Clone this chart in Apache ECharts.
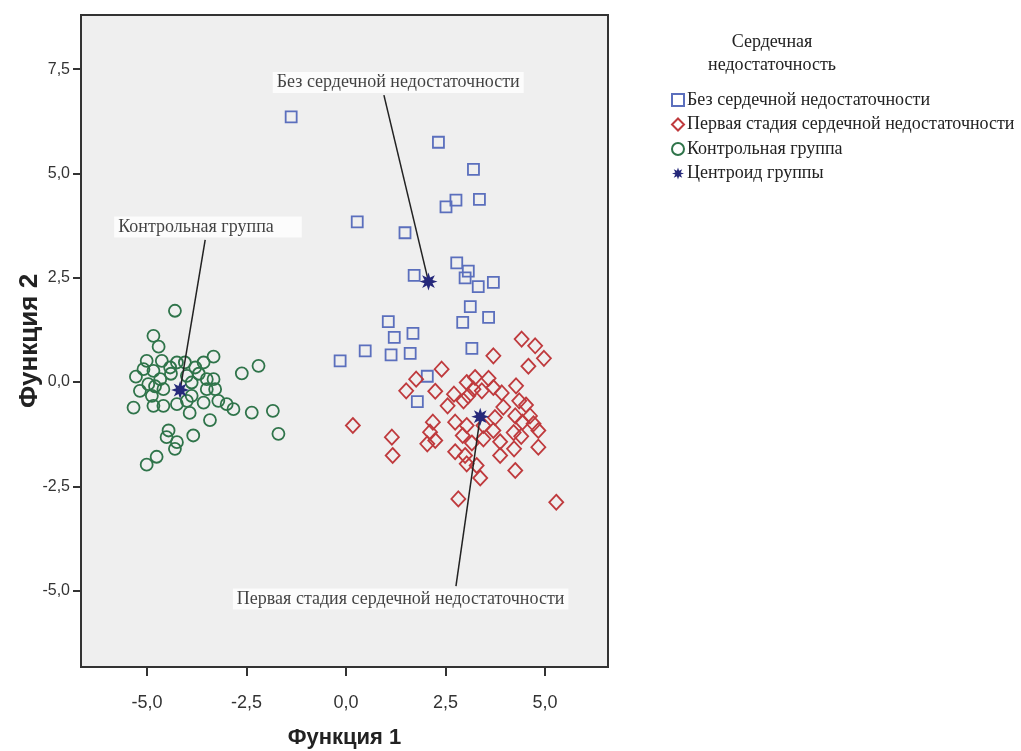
<!DOCTYPE html>
<html>
<head>
<meta charset="utf-8">
<script src="https://cdn.jsdelivr.net/npm/echarts@6/dist/echarts.min.js"></script>
<style>html,body{margin:0;padding:0;background:#fff;}#c{width:1021px;height:751px;}</style>
</head>
<body>
<div id="c"></div>
<script>
// ---- data ----
var seriesNames = ['Без сердечной недостаточности', 'Первая стадия сердечной недостаточности', 'Контрольная группа', 'Центроид группы'];
var legendTitle = 'Сердечная\nнедостаточность';
var xAxisName = 'Функция 1';
var yAxisName = 'Функция 2';
var tickValues = [-5, -2.5, 0, 2.5, 5];
var yTickValues = [-5, -2.5, 0, 2.5, 5, 7.5];

var noHF = [[-1.38,6.36],[2.32,5.75],[3.20,5.10],[2.76,4.36],[2.51,4.20],[3.35,4.38],[0.28,3.84],[1.48,3.58],
  [2.78,2.86],[3.07,2.66],[2.99,2.50],[1.71,2.56],[3.32,2.29],[3.70,2.39],[3.12,1.81],[3.58,1.55],[2.93,1.43],
  [1.06,1.45],[1.21,1.07],[1.68,1.17],[0.48,0.75],[1.13,0.65],[1.61,0.69],[3.16,0.81],[-0.15,0.51],[2.04,0.14],[1.79,-0.47]];

var stage1 = [[4.41,1.03],[4.75,0.87],[4.97,0.57],[4.58,0.38],[3.70,0.63],[2.40,0.31],[1.76,0.07],[1.51,-0.21],
  [2.24,-0.22],[2.71,-0.29],[2.55,-0.57],[3.03,-0.01],[3.24,0.11],[3.58,0.09],[3.20,-0.17],[3.07,-0.33],[3.41,-0.21],
  [3.70,-0.13],[3.91,-0.26],[4.27,-0.09],[4.35,-0.45],[4.52,-0.55],[4.25,-0.81],[4.62,-0.81],[4.43,-0.96],[4.71,-1.00],
  [4.83,-1.16],[4.21,-1.21],[3.74,-0.85],[3.70,-1.16],[3.87,-1.43],[3.45,-1.36],[2.74,-0.96],[3.03,-1.04],[2.93,-1.28],
  [3.16,-1.46],[2.74,-1.67],[2.99,-1.76],[3.03,-1.96],[3.28,-2.00],[3.37,-2.30],[3.87,-1.76],[4.22,-1.60],[4.25,-2.12],
  [4.83,-1.56],[2.18,-0.96],[2.11,-1.20],[2.24,-1.40],[2.04,-1.48],[0.17,-1.04],[1.15,-1.32],[1.17,-1.76],[2.82,-2.80],
  [5.28,-2.88],[3.45,-1.04],[4.40,-1.30],[3.95,-0.60],[2.95,-0.45]];

var control = [[-4.30,1.71],[-4.84,1.11],[-4.71,0.85],[-3.33,0.61],[-3.58,0.47],[-2.62,0.21],[-2.20,0.39],[-5.01,0.51],
  [-4.63,0.51],[-4.25,0.47],[-4.05,0.47],[-3.79,0.35],[-5.28,0.13],[-5.09,0.31],[-4.84,0.27],[-4.42,0.35],[-4.97,-0.05],
  [-4.67,0.07],[-5.18,-0.21],[-4.59,-0.17],[-4.88,-0.33],[-4.00,0.15],[-3.88,-0.01],[-3.50,0.07],[-3.33,0.07],[-3.50,-0.17],
  [-3.29,-0.17],[-3.88,-0.33],[-5.34,-0.61],[-4.84,-0.57],[-4.59,-0.57],[-4.25,-0.53],[-3.58,-0.49],[-3.21,-0.45],[-3.00,-0.53],
  [-2.83,-0.65],[-2.37,-0.73],[-1.84,-0.69],[-1.70,-1.24],[-3.93,-0.74],[-3.42,-0.91],[-4.46,-1.16],[-4.51,-1.32],[-4.25,-1.44],
  [-4.30,-1.60],[-3.84,-1.28],[-4.76,-1.79],[-5.01,-1.98],[-4.40,0.20],[-3.70,0.20],[-4.00,-0.45],[-4.80,-0.10]];

var centroids = [[2.07,2.41],[3.37,-0.83],[-4.17,-0.19]];

// annotation labels (data units)
var annotNames = ['Без сердечной недостаточности', 'Первая стадия сердечной недостаточности', 'Контрольная группа'];
var annotLabelPos = [[1.31,7.18],[1.37,-5.20],[-3.47,3.72]];
var annotLineStart = [[0.95,6.88],[2.76,-4.89],[-3.54,3.41]];

// ---- chart ----
function starPath(){
  var pts=[];
  for(var k=0;k<16;k++){
    var a=Math.PI/2 + k*Math.PI/8;
    var r=(k%2===0)?1:0.48;
    pts.push((50+50*r*Math.cos(a)).toFixed(2)+' '+(50-50*r*Math.sin(a)).toFixed(2));
  }
  return 'path://M'+pts.join(' L')+' Z';
}
var STAR = starPath();
var serif = '"Liberation Serif","DejaVu Serif",serif';
var sans = '"Liberation Sans",Arial,sans-serif';

var chart = echarts.init(document.getElementById('c'), null, {renderer:'canvas'});

var series = [
  {name:seriesNames[0], type:'scatter', data:noHF, symbol:'rect', symbolSize:11, z:3,
   itemStyle:{color:'rgba(0,0,0,0)', borderColor:'#5b6fbd', borderWidth:1.8, opacity:1}},
  {name:seriesNames[1], type:'scatter', data:stage1, symbol:'diamond', symbolSize:[14,15], z:3,
   itemStyle:{color:'rgba(0,0,0,0)', borderColor:'#bf3a3d', borderWidth:1.8, opacity:1}},
  {name:seriesNames[2], type:'scatter', data:control, symbol:'circle', symbolSize:12, z:3,
   itemStyle:{color:'rgba(0,0,0,0)', borderColor:'#2f744a', borderWidth:1.8, opacity:1}},
  {name:seriesNames[3], type:'scatter', data:centroids, symbol:STAR, symbolSize:18, z:6,
   itemStyle:{color:'#25287a', borderWidth:0, opacity:1}}
];
for (var i=0;i<annotNames.length;i++){
  series.push({type:'line', silent:true, z:5, symbol:'none', animation:false,
    data:[annotLineStart[i], centroids[i]],
    lineStyle:{color:'#222', width:1.5}});
}
var labelPads = [[2,4,1,4],[2,4,1,4],[2,28,1,4]];
series.push({type:'scatter', silent:true, z:7, symbolSize:0, animation:false,
  data: annotNames.map(function(n,i){return {name:n, value:annotLabelPos[i], label:{padding:labelPads[i]}};}),
  label:{show:true, position:'inside', formatter:'{b}', color:'#111', fontFamily:serif, fontSize:18,
    backgroundColor:'#ffffff'}});

var option = {
  animation:false,
  backgroundColor:'#ffffff',
  title:{text:legendTitle, left:767, top:26, textAlign:'center',
    textStyle:{fontFamily:serif, fontSize:18, fontWeight:'normal', color:'#222', lineHeight:23}},
  legend:{data:seriesNames, orient:'vertical', left:666, top:86, itemGap:6.5, itemWidth:12, itemHeight:12,
    textStyle:{fontFamily:serif, fontSize:18, color:'#222', padding:[0,0,0,-2]}},
  grid:{left:81, top:15, right:413, bottom:84, show:true, outerBoundsMode:'none', containLabel:false,
    backgroundColor:'#efefef', borderColor:'#333', borderWidth:2},
  xAxis:{type:'value', min:-6.66, max:6.58,
    name:xAxisName, nameLocation:'middle', nameGap:60, nameMoveOverlap:false,
    nameTextStyle:{fontFamily:sans, fontSize:22, fontWeight:'bold', color:'#222'},
    axisLine:{show:true, onZero:false, lineStyle:{color:'#333', width:2}},
    axisTick:{show:true, length:9, customValues:tickValues, lineStyle:{color:'#333', width:2}},
    axisLabel:{customValues:tickValues, margin:27, fontFamily:sans, fontSize:18, color:'#333',
      formatter:function(v){return v.toFixed(1).replace('.',',');}},
    splitLine:{show:false}},
  yAxis:{type:'value', min:-6.83, max:8.80,
    name:yAxisName, nameLocation:'middle', nameGap:38, nameMoveOverlap:false,
    nameTextStyle:{fontFamily:sans, fontSize:26, fontWeight:'bold', color:'#222'},
    axisLine:{show:true, onZero:false, lineStyle:{color:'#333', width:2}},
    axisTick:{show:true, length:8, customValues:yTickValues, lineStyle:{color:'#333', width:2}},
    axisLabel:{customValues:yTickValues, margin:11, fontFamily:sans, fontSize:16, color:'#333',
      formatter:function(v){return v.toFixed(1).replace('.',',');}},
    splitLine:{show:false}},
  series:series
};
chart.setOption(option);
</script>
</body>
</html>
